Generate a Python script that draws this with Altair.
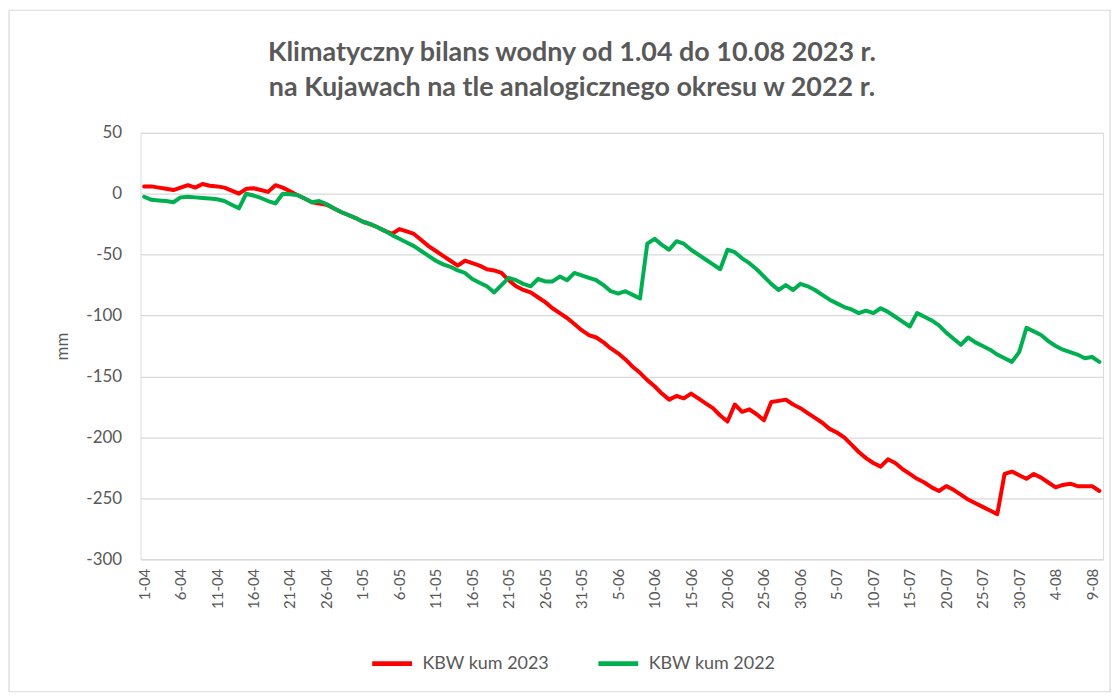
import altair as alt
import pandas as pd

# Category labels: daily dates from 1 April to 10 August
dates = [f"{d.day}-{d.month:02d}" for d in pd.date_range("2023-04-01", "2023-08-10")]
tick_labels = dates[::5]
y_ticks = [50, 0, -50, -100, -150, -200, -250, -300]

# Cumulative climatic water balance [mm]
kbw_2023 = [
    6, 6, 5, 4, 3, 5, 7, 5, 8, 6.5,
    6, 5, 2.5, 0, 4, 4.5, 3, 1.5, 7, 5,
    2, -1, -4, -7, -8, -9, -12, -15, -17.5, -20,
    -23, -25, -27.5, -30.5, -33, -29, -31, -33, -38, -43,
    -47, -51, -55, -59, -55, -57, -59, -62, -63, -65,
    -71, -76, -79, -81, -85, -89, -94, -98, -102, -107,
    -112, -116, -118, -122, -127, -131, -136, -142, -147, -153,
    -158, -164, -169, -166, -168, -164, -168, -172, -176, -182,
    -187, -173, -179, -177, -181, -186, -171, -170, -169, -173,
    -176, -180, -184, -188, -193, -196, -200, -206, -212, -217,
    -221, -224, -218, -221, -226, -230, -234, -237, -241, -244,
    -240, -243, -247, -251, -254, -257, -260, -263, -230, -228,
    -231, -234, -230, -233, -237, -241, -239, -238, -240, -240,
    -240, -244,
]
kbw_2022 = [
    -2.5, -5, -5.5, -6, -7, -3, -2.5, -3, -3.5, -4,
    -4.5, -6, -9, -12, 0, -1.5, -3.5, -6, -8, 0,
    -0.5, -1, -4, -7, -6, -8.5, -12, -15, -17.5, -20,
    -23, -25, -27.5, -30.5, -34, -37, -40, -43, -47, -51,
    -55, -58, -60, -63, -65, -70, -73, -76, -81, -75,
    -69, -71, -74, -76, -70, -72, -72, -68, -71, -65,
    -67, -69, -71, -75, -80, -82, -80, -83, -86, -41,
    -37, -42, -46, -39, -41, -46, -50, -54, -58, -62,
    -46, -48, -53, -57, -62, -68, -74, -79, -75, -79,
    -74, -76, -79, -83, -87, -90, -93, -95, -98, -96,
    -98, -94, -97, -101, -105, -109, -98, -101, -104, -108,
    -114, -119, -124, -118, -122, -125, -128, -132, -135, -138,
    -130, -110, -113, -116, -121, -125, -128, -130, -132, -135,
    -134, -138,
]

series_names = ["KBW kum 2023", "KBW kum 2022"]
series_colors = ["#ff0000", "#00b050"]

df = pd.DataFrame({
    "date": dates * 2,
    "value": kbw_2023 + kbw_2022,
    "series": [series_names[0]] * len(dates) + [series_names[1]] * len(dates),
})

FONT = "Lato"
GREY = "#595959"

# outer chart frame (decoration)
frame = alt.Chart(pd.DataFrame({"f": [0]})).mark_rect(
    fill="white", fillOpacity=0, stroke="#d9d9d9", strokeWidth=1.2
).encode(
    x=alt.value(-132), x2=alt.value(973), y=alt.value(-123), y2=alt.value(561)
)

lines = alt.Chart(df).mark_line(strokeWidth=4, strokeJoin="round", strokeCap="round").encode(
    x=alt.X(
        "date:O",
        sort=dates,
        scale=alt.Scale(type="point", padding=0.5),
        axis=alt.Axis(
            values=tick_labels,
            labelAngle=270,
            labelAlign="right",
            labelBaseline="middle",
            labelFontSize=15,
            labelColor=GREY,
            labelFont=FONT,
            labelPadding=9,
            ticks=False,
            domain=False,
            grid=False,
            title=None,
        ),
    ),
    y=alt.Y(
        "value:Q",
        scale=alt.Scale(domain=[-300, 50], nice=False, zero=False),
        axis=alt.Axis(
            values=y_ticks,
            labelExpr="'' + datum.value",
            labelFontSize=17,
            labelColor=GREY,
            labelFont=FONT,
            labelPadding=19,
            ticks=False,
            domain=False,
            gridColor="#d9d9d9",
            gridWidth=1.3,
            title="mm",
            titleFontSize=17,
            titleFontWeight="normal",
            titleColor=GREY,
            titleFont=FONT,
            titlePadding=14,
        ),
    ),
    color=alt.Color(
        "series:N",
        sort=series_names,
        scale=alt.Scale(domain=series_names, range=series_colors),
        legend=alt.Legend(
            orient="none",
            legendX=230,
            legendY=510,
            direction="horizontal",
            title=None,
            symbolType="stroke",
            symbolStrokeWidth=5,
            symbolSize=1600,
            labelFontSize=18,
            labelColor=GREY,
            labelFont=FONT,
            labelOffset=8,
            columnPadding=38,
        ),
    ),
)

chart = alt.layer(frame, lines).properties(
    width=966,
    height=428,
    title=alt.TitleParams(
        text=["Klimatyczny bilans  wodny od  1.04 do  10.08 2023 r.",
              "na Kujawach na tle analogicznego  okresu  w 2022 r."],
        fontSize=27,
        fontWeight="bold",
        color=GREY,
        font=FONT,
        lineHeight=35,
        anchor="middle",
        frame="group",
        dx=-50,
        offset=-93,
    ),
    padding={"left": 0, "top": 0, "right": 0, "bottom": 0},
).configure_view(stroke=None).configure(background="white")

chart.save("out.html", embed_options={"renderer": "svg", "actions": False})
